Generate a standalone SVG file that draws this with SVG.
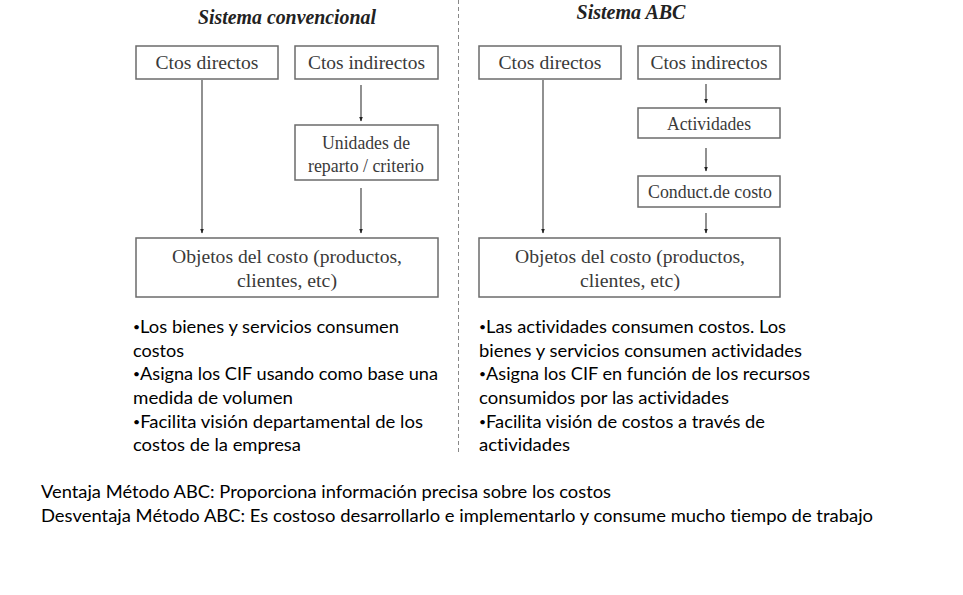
<svg xmlns="http://www.w3.org/2000/svg" width="963" height="595" viewBox="0 0 963 595">
<style>
.box{fill:#fff;stroke:#6b6b6b;stroke-width:1.5}
.bt{font-family:"Liberation Serif","Times New Roman",serif;font-size:19px;fill:#3a3a3a;text-anchor:middle}
.tt{font-family:"Liberation Serif","Times New Roman",serif;font-size:20px;font-weight:bold;font-style:italic;fill:#222;text-anchor:middle}
.ln{stroke:#555;stroke-width:1.3;fill:none;marker-end:url(#ah)}
.body{font-family:Lato,"Open Sans",sans-serif;font-size:18px;fill:#000;font-variant-ligatures:none}
.bu{font-size:12px}
</style>
<defs>
<marker id="ah" markerWidth="5" markerHeight="5" refX="4.5" refY="2.5" orient="auto" markerUnits="userSpaceOnUse">
<path d="M0,0.5 L5,2.5 L0,4.5 Z" fill="#222"/>
</marker>
</defs>
<rect width="963" height="595" fill="#fff"/>
<line x1="458.5" y1="0" x2="458.5" y2="455" stroke="#888" stroke-width="1" stroke-dasharray="4,3"/>
<text class="tt" x="287" y="24" textLength="178" lengthAdjust="spacingAndGlyphs">Sistema convencional</text>
<text class="tt" x="631" y="19" textLength="109" lengthAdjust="spacingAndGlyphs">Sistema ABC</text>

<g id="connectors">
<line class="ln" x1="202" y1="80" x2="202" y2="233"/>
<line class="ln" x1="361" y1="85" x2="361" y2="121"/>
<line class="ln" x1="361" y1="188" x2="361" y2="233"/>
<line class="ln" x1="543" y1="80" x2="543" y2="233"/>
<line class="ln" x1="706" y1="84" x2="706" y2="103"/>
<line class="ln" x1="706" y1="148" x2="706" y2="171"/>
<line class="ln" x1="706" y1="213" x2="706" y2="233"/>
</g>

<g id="c-directos"><rect class="box" x="136" y="46" width="142" height="33"/><text class="bt" x="207" y="69" textLength="103" lengthAdjust="spacingAndGlyphs">Ctos directos</text></g>
<g id="c-indirectos"><rect class="box" x="295" y="46" width="143" height="33"/><text class="bt" x="366.5" y="69" textLength="117" lengthAdjust="spacingAndGlyphs">Ctos indirectos</text></g>
<g id="c-unidades"><rect class="box" x="295" y="125" width="143" height="55"/><text class="bt" x="366" y="149" font-size="17" textLength="88" lengthAdjust="spacingAndGlyphs">Unidades de</text><text class="bt" x="366" y="172" font-size="17" textLength="116" lengthAdjust="spacingAndGlyphs">reparto / criterio</text></g>
<g id="c-objetos"><rect class="box" x="136" y="238" width="302" height="59"/><text class="bt" x="287" y="263" textLength="230" lengthAdjust="spacingAndGlyphs">Objetos del costo (productos,</text><text class="bt" x="287" y="287" textLength="100" lengthAdjust="spacingAndGlyphs">clientes, etc)</text></g>

<g id="a-directos"><rect class="box" x="479" y="46" width="142" height="33"/><text class="bt" x="550" y="69" textLength="103" lengthAdjust="spacingAndGlyphs">Ctos directos</text></g>
<g id="a-indirectos"><rect class="box" x="638" y="46" width="142" height="33"/><text class="bt" x="709" y="69" textLength="117" lengthAdjust="spacingAndGlyphs">Ctos indirectos</text></g>
<g id="a-actividades"><rect class="box" x="638" y="108" width="142" height="30"/><text class="bt" x="709" y="130" font-size="17" textLength="84" lengthAdjust="spacingAndGlyphs">Actividades</text></g>
<g id="a-conduct"><rect class="box" x="638" y="176" width="142" height="31"/><text class="bt" x="710" y="198" font-size="17" textLength="124" lengthAdjust="spacingAndGlyphs">Conduct.de costo</text></g>
<g id="a-objetos"><rect class="box" x="479" y="238" width="301" height="59"/><text class="bt" x="630" y="263" textLength="230" lengthAdjust="spacingAndGlyphs">Objetos del costo (productos,</text><text class="bt" x="630" y="287" textLength="100" lengthAdjust="spacingAndGlyphs">clientes, etc)</text></g>

<g id="left-notes" class="body">
<text x="133" y="333" textLength="266" lengthAdjust="spacingAndGlyphs"><tspan class="bu" dy="-2">•</tspan><tspan dy="2">Los bienes y servicios consumen</tspan></text>
<text x="133" y="357" textLength="51" lengthAdjust="spacingAndGlyphs">costos</text>
<text x="133" y="380" textLength="305" lengthAdjust="spacingAndGlyphs"><tspan class="bu" dy="-2">•</tspan><tspan dy="2">Asigna los CIF usando como base una</tspan></text>
<text x="133" y="404" textLength="160" lengthAdjust="spacingAndGlyphs">medida de volumen</text>
<text x="133" y="428" textLength="290" lengthAdjust="spacingAndGlyphs"><tspan class="bu" dy="-2">•</tspan><tspan dy="2">Facilita visión departamental de los</tspan></text>
<text x="133" y="451" textLength="168" lengthAdjust="spacingAndGlyphs">costos de la empresa</text>
</g>
<g id="right-notes" class="body">
<text x="479" y="333" textLength="307" lengthAdjust="spacingAndGlyphs"><tspan class="bu" dy="-2">•</tspan><tspan dy="2">Las actividades consumen costos. Los</tspan></text>
<text x="479" y="357" textLength="323" lengthAdjust="spacingAndGlyphs">bienes y servicios consumen actividades</text>
<text x="479" y="380" textLength="331" lengthAdjust="spacingAndGlyphs"><tspan class="bu" dy="-2">•</tspan><tspan dy="2">Asigna los CIF en función de los recursos</tspan></text>
<text x="479" y="404" textLength="250" lengthAdjust="spacingAndGlyphs">consumidos por las actividades</text>
<text x="479" y="428" textLength="286" lengthAdjust="spacingAndGlyphs"><tspan class="bu" dy="-2">•</tspan><tspan dy="2">Facilita visión de costos a través de</tspan></text>
<text x="479" y="451" textLength="91" lengthAdjust="spacingAndGlyphs">actividades</text>
</g>
<g id="footer" class="body">
<text x="41" y="498" textLength="570" lengthAdjust="spacingAndGlyphs">Ventaja Método ABC: Proporciona información precisa sobre los costos</text>
<text x="41" y="522" textLength="832" lengthAdjust="spacingAndGlyphs">Desventaja Método ABC: Es costoso desarrollarlo e implementarlo y consume mucho tiempo de trabajo</text>
</g>
</svg>
